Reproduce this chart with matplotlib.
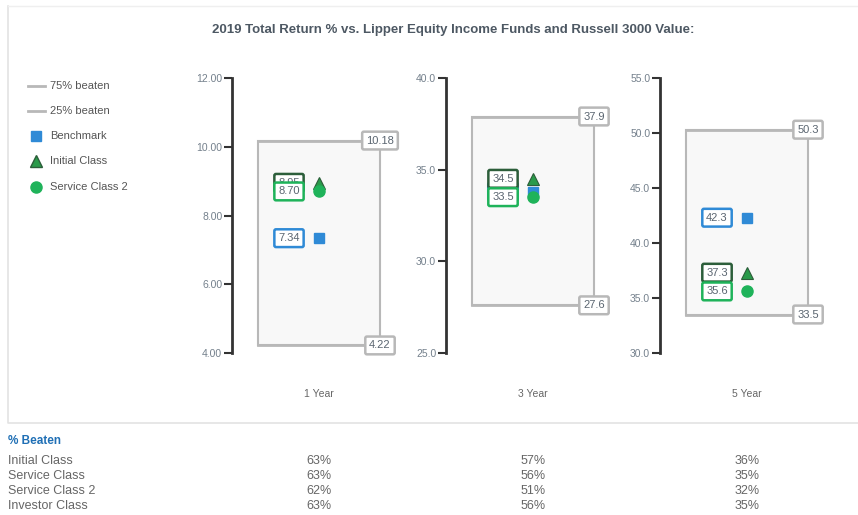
import matplotlib
matplotlib.use("Agg")
import matplotlib.pyplot as plt
from matplotlib.patches import Rectangle

plt.rcParams["font.family"] = ["Liberation Sans", "DejaVu Sans"]

# --- DATA ---
periods = ["1 Year", "3 Year", "5 Year"]
pct_75 = [10.18, 37.9, 50.3]
pct_25 = [4.22, 27.6, 33.5]
benchmark = [7.34, 33.8, 42.3]
initial_class = [8.95, 34.5, 37.3]
service_class_2 = [8.70, 33.5, 35.6]
y_limits = [(4, 12), (25, 40), (30, 55)]
y_ticks = [[4, 6, 8, 10, 12], [25, 30, 35, 40], [30, 35, 40, 45, 50, 55]]
tick_fmt = ["{:.2f}", "{:.1f}", "{:.1f}"]
label_fmt = ["{:.2f}", "{:.1f}", "{:.1f}"]

table_rows = ["Initial Class", "Service Class", "Service Class 2", "Investor Class"]
beaten = [
    ["63%", "57%", "36%"],
    ["63%", "56%", "35%"],
    ["62%", "51%", "32%"],
    ["63%", "56%", "35%"],
]

# colours
c_bench = "#2f8ad6"
c_init = "#2a9a4a"
c_init_edge = "#2c5e3a"
c_sc2 = "#1fb35a"
c_box = "#b8b8b8"
c_tick = "#74808c"
c_text = "#555555"

W, H = 858, 515
fig = plt.figure(figsize=(W / 100, H / 100), dpi=100)

def px(x, y):
    return x / W, 1 - y / H

# outer panel border
bg = fig.add_axes([0, 0, 1, 1])
bg.set_xlim(0, W)
bg.set_ylim(H, 0)
bg.axis("off")
bg.plot([8, 8, W], [6, 423, 423], color="#e3e3e3", lw=1.2)
bg.plot([8, W], [6, 6], color="#efefef", lw=1.0)

fig.text(*px(453, 30), "2019 Total Return % vs. Lipper Equity Income Funds and Russell 3000 Value:",
         ha="center", va="center", fontsize=9.5, fontweight="bold", color="#4d5863")

# legend
leg_y = [86, 111, 136, 161, 187]
leg_labels = ["75% beaten", "25% beaten", "Benchmark", "Initial Class", "Service Class 2"]
for yy, lab in zip(leg_y, leg_labels):
    bg.text(50, yy, lab, ha="left", va="center", fontsize=8, color=c_text)
bg.plot([28, 45], [leg_y[0], leg_y[0]], color=c_box, lw=2)
bg.plot([28, 45], [leg_y[1], leg_y[1]], color=c_box, lw=2)
bg.plot(36, leg_y[2], "s", color=c_bench, ms=6.5)
bg.plot(36, leg_y[3], "^", color=c_init, mec=c_init_edge, ms=8)
bg.plot(36, leg_y[4], "o", color=c_sc2, ms=8)

axis_x = [232, 446, 660]
top, bottom = 78, 353

def value_box(ax, x, y, txt, edge):
    ax.text(x, y, txt, ha="center", va="center", fontsize=8, color="#5a6570", zorder=6,
            bbox=dict(boxstyle="round,pad=0.35,rounding_size=0.15", fc="white", ec=edge, lw=1.8))

for i, name in enumerate(periods):
    x0 = axis_x[i]
    left, bot = px(x0, bottom)
    ax = fig.add_axes([left, bot, 180 / W, (bottom - top) / H])
    ax.set_xlim(0, 180)
    ax.set_ylim(*y_limits[i])
    for s in ["top", "right", "bottom"]:
        ax.spines[s].set_visible(False)
    ax.spines["left"].set_color("#333333")
    ax.spines["left"].set_linewidth(2)
    ax.set_xticks([])
    ax.set_yticks(y_ticks[i])
    ax.set_yticklabels([tick_fmt[i].format(t) for t in y_ticks[i]])
    ax.tick_params(axis="y", length=6, width=1.5, color="#333333", labelcolor=c_tick,
                   labelsize=7.5, pad=1)
    ax.patch.set_alpha(0)

    # percentile box
    ax.add_patch(Rectangle((26, pct_25[i]), 122, pct_75[i] - pct_25[i], fc="#f8f8f8",
                           ec=c_box, lw=1.5, zorder=1))
    ax.plot([26, 148], [pct_75[i], pct_75[i]], color=c_box, lw=2, zorder=2)
    ax.plot([26, 148], [pct_25[i], pct_25[i]], color=c_box, lw=2, zorder=2)
    value_box(ax, 148, pct_75[i], label_fmt[i].format(pct_75[i]), c_box)
    value_box(ax, 148, pct_25[i], label_fmt[i].format(pct_25[i]), c_box)

    # value labels: benchmark, then initial, then service class 2 on top
    value_box(ax, 57, benchmark[i], label_fmt[i].format(benchmark[i]), c_bench)
    value_box(ax, 57, initial_class[i], label_fmt[i].format(initial_class[i]), c_init_edge)
    value_box(ax, 57, service_class_2[i], label_fmt[i].format(service_class_2[i]), c_sc2)

    ax.plot(87, benchmark[i], "s", color=c_bench, ms=7, zorder=7)
    ax.plot(87, initial_class[i], "^", color=c_init, mec=c_init_edge, mew=0.8, ms=8, zorder=8)
    ax.plot(87, service_class_2[i], "o", color=c_sc2, ms=8, zorder=9)

    fig.text(*px(x0 + 87, 394), name, ha="center", va="center", fontsize=7.5, color="#666666")

# % Beaten table
narrow = ["Liberation Sans Narrow", "Liberation Sans", "DejaVu Sans"]
fig.text(*px(8, 441), "% Beaten", ha="left", va="center", fontsize=8.5, fontweight="bold",
         color="#1f6fb5", family=narrow)
row_y = [461, 476, 491, 506]
for r, lab in enumerate(table_rows):
    fig.text(*px(8, row_y[r]), lab, ha="left", va="center", fontsize=9, color="#666666", family=narrow)
    for i in range(len(periods)):
        fig.text(*px(axis_x[i] + 87, row_y[r]), beaten[r][i], ha="center", va="center",
                 fontsize=9, color="#666666", family=narrow)

fig.savefig("out.png", dpi=100)
